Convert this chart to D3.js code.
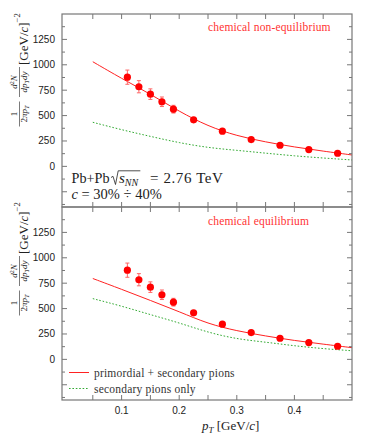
<!DOCTYPE html>
<html>
<head>
<meta charset="utf-8">
<script src="https://cdn.jsdelivr.net/npm/d3@7"></script>
<style>
  body { margin: 0; background: #fff; }
  svg { display: block; }
  .serif { font-family: "Liberation Serif", "Times New Roman", "DejaVu Serif", serif; }
  .sans { font-family: "Liberation Sans", Arial, sans-serif; }
</style>
</head>
<body>
<div id="chart"></div>
<script>
// measured points (same in both panels)
const ptData = [0.11, 0.13, 0.15, 0.17, 0.19, 0.225, 0.275, 0.325, 0.375, 0.425, 0.475];
const yieldData = [878, 784, 711, 636, 563, 458, 346, 264, 208, 165, 129];
const errData = [70, 60, 52, 47, 38, 20, 14, 11, 9, 8, 7];

// model curves
const ptCurve = [0.05, 0.1, 0.15, 0.2, 0.25, 0.3, 0.35, 0.4, 0.45, 0.5];
const noneqTotal = [1030, 865, 712, 540, 395, 300, 240, 190, 150, 112];
const noneqSecondary = [434, 360, 295, 232, 184, 158, 130, 103, 82, 63];
const eqTotal = [796, 690, 580, 470, 350, 280, 230, 185, 150, 115];
const eqSecondary = [598, 525, 440, 360, 265, 200, 170, 133, 105, 85];

const xTickLabels = [0.1, 0.2, 0.3, 0.4];
const yTickLabels = [0, 250, 500, 750, 1000, 1250];

const W = 374, H = 442;
const left = 62, right = 352;
const frameGray = "#777";
const red = "#f22", green = "#3a3";

const svg = d3.select("#chart").append("svg").attr("width", W).attr("height", H);

const x = d3.scaleLinear().domain([0, 0.5]).range([64, right]);

const panels = [
  { top: 14, bottom: 207, label: "chemical non-equilibrium", total: noneqTotal, secondary: noneqSecondary, labelY: 127 },
  { top: 207, bottom: 400, label: "chemical equilibrium", total: eqTotal, secondary: eqSecondary, labelY: 316 }
];

const line = (y) => d3.line().x((d, i) => x(ptCurve[i])).y((d) => y(d)).curve(d3.curveBasis);

panels.forEach((p, pi) => {
  const y = d3.scaleLinear().domain([-400, 1500]).range([p.bottom, p.top]);
  const g = svg.append("g");

  // curves
  g.append("path").attr("d", line(y)(p.total))
    .attr("fill", "none").attr("stroke", red).attr("stroke-width", 1);
  g.append("path").attr("d", line(y)(p.secondary))
    .attr("fill", "none").attr("stroke", green).attr("stroke-width", 1)
    .attr("stroke-dasharray", "1.6,1.8");

  // error bars
  const eb = g.selectAll(".eb").data(ptData).enter().append("g")
    .attr("stroke", "#f66").attr("stroke-width", 1);
  eb.append("line").attr("x1", (d) => x(d)).attr("x2", (d) => x(d))
    .attr("y1", (d, i) => y(yieldData[i] - errData[i])).attr("y2", (d, i) => y(yieldData[i] + errData[i]));
  eb.append("line").attr("x1", (d) => x(d) - 2).attr("x2", (d) => x(d) + 2)
    .attr("y1", (d, i) => y(yieldData[i] - errData[i])).attr("y2", (d, i) => y(yieldData[i] - errData[i]));
  eb.append("line").attr("x1", (d) => x(d) - 2).attr("x2", (d) => x(d) + 2)
    .attr("y1", (d, i) => y(yieldData[i] + errData[i])).attr("y2", (d, i) => y(yieldData[i] + errData[i]));

  g.selectAll(".pt").data(ptData).enter().append("circle")
    .attr("cx", (d) => x(d)).attr("cy", (d, i) => y(yieldData[i]))
    .attr("r", 3.6).attr("fill", "#f00");

  // frame
  g.append("rect").attr("x", left).attr("y", p.top).attr("width", right - left).attr("height", p.bottom - p.top)
    .attr("fill", "none").attr("stroke", frameGray).attr("stroke-width", 1.2);

  // y ticks (inside, both sides)
  const yt = d3.range(-375, 1500, 125);
  yt.forEach((v) => {
    const len = v % 250 === 0 ? 5 : 3;
    g.append("line").attr("x1", left).attr("x2", left + len).attr("y1", y(v)).attr("y2", y(v))
      .attr("stroke", frameGray);
    g.append("line").attr("x1", right).attr("x2", right - len).attr("y1", y(v)).attr("y2", y(v))
      .attr("stroke", frameGray);
  });
  g.selectAll(".yl").data(yTickLabels).enter().append("text")
    .attr("class", "sans")
    .attr("x", 55).attr("y", (d) => y(d) + 3.5).attr("text-anchor", "end")
    .attr("font-size", 10).attr("fill", "#222")
    .text((d) => d);

  // x ticks (inside, top and bottom)
  d3.range(0.05, 0.5, 0.05).forEach((v) => {
    g.append("line").attr("x1", x(v)).attr("x2", x(v)).attr("y1", p.bottom).attr("y2", p.bottom - 5)
      .attr("stroke", frameGray);
    g.append("line").attr("x1", x(v)).attr("x2", x(v)).attr("y1", p.top).attr("y2", p.top + 5)
      .attr("stroke", frameGray);
  });

  // panel title
  g.append("text").attr("class", "serif").attr("x", 208).attr("y", pi === 0 ? 31 : 225)
    .attr("font-size", 11.5).attr("letter-spacing", 0.15).attr("fill", "#f33")
    .text(p.label);

  // rotated y-axis label
  const yl = svg.append("g").attr("class", "serif")
    .attr("transform", "translate(0," + p.labelY + ") rotate(-90)")
    .attr("fill", "#222");
  const frac = (cx, num, den, halfw) => {
    const n = yl.append("text").attr("x", cx).attr("y", 17).attr("text-anchor", "middle").attr("font-size", 9);
    num(n);
    yl.append("line").attr("x1", cx - halfw).attr("x2", cx + halfw).attr("y1", 19.5).attr("y2", 19.5)
      .attr("stroke", "#222").attr("stroke-width", 0.6);
    const dn = yl.append("text").attr("x", cx).attr("y", 27).attr("text-anchor", "middle").attr("font-size", 9);
    den(dn);
  };
  frac(13, (t) => t.text("1"), (t) => {
    t.append("tspan").text("2");
    t.append("tspan").attr("font-style", "italic").text("πp");
    t.append("tspan").attr("font-style", "italic").attr("font-size", 6.5).attr("dy", 1.5).text("T");
  }, 12.5);
  frac(45, (t) => {
    t.append("tspan").attr("font-style", "italic").text("d");
    t.append("tspan").attr("font-size", 6).attr("dy", -3).text("2");
    t.append("tspan").attr("font-style", "italic").attr("dy", 3).text("N");
  }, (t) => {
    t.append("tspan").attr("font-style", "italic").text("dp");
    t.append("tspan").attr("font-style", "italic").attr("font-size", 6.5).attr("dy", 1.5).text("T");
    t.append("tspan").attr("font-style", "italic").attr("dy", -1.5).text("dy");
  }, 15);
  const gl = yl.append("text").attr("x", 62).attr("y", 28).attr("font-size", 13);
  gl.append("tspan").text("[GeV/");
  gl.append("tspan").attr("font-style", "italic").text("c");
  gl.append("tspan").text("]");
  gl.append("tspan").attr("font-size", 8.5).attr("dy", -8).text("−2");
});

// collision-system annotation; the radical sign is drawn as a path
svg.append("text").attr("class", "serif").attr("x", 71.5).attr("y", 183).attr("font-size", 14.2)
  .attr("fill", "#222").text("Pb+Pb");
const sqt = svg.append("text").attr("class", "serif").attr("x", 119).attr("y", 183).attr("font-size", 15).attr("fill", "#222");
sqt.append("tspan").attr("font-style", "italic").text("s");
const nn = sqt.append("tspan").attr("font-style", "italic").attr("font-size", 10).attr("dy", 2.5).text("NN");
svg.append("text").attr("class", "serif").attr("x", 150).attr("y", 183).attr("font-size", 15)
  .attr("letter-spacing", 0.6).attr("fill", "#222").text("= 2.76 TeV");
const nnEnd = nn.node().getBBox();
svg.append("path")
  .attr("d", "M111,177.5 L113,176.3 L115.5,184.5 L118.2,170.8 H" + (nnEnd.x + nnEnd.width + 0.8))
  .attr("fill", "none").attr("stroke", "#222").attr("stroke-width", 0.8);

const ann2 = svg.append("text").attr("class", "serif").attr("x", 71.5).attr("y", 199).attr("font-size", 14.5).attr("fill", "#222");
ann2.append("tspan").attr("font-style", "italic").text("c");
ann2.append("tspan").text(" = 30% ÷ 40%");

// legend
const leg = [
  { label: "primordial + secondary pions", color: red, dash: null, y: 372.5 },
  { label: "secondary pions only", color: green, dash: "1.6,1.8", y: 388.5 }
];
leg.forEach((l) => {
  svg.append("line").attr("x1", 69).attr("x2", 89).attr("y1", l.y).attr("y2", l.y)
    .attr("stroke", l.color).attr("stroke-width", 1).attr("stroke-dasharray", l.dash);
  svg.append("text").attr("class", "serif").attr("x", 94).attr("y", l.y + 4.5).attr("font-size", 11.5)
    .attr("letter-spacing", 0.2).attr("fill", "#333").text(l.label);
});

// x tick labels and axis title
svg.selectAll(".xl").data(xTickLabels).enter().append("text")
  .attr("class", "sans")
  .attr("x", (d) => x(d)).attr("y", 414).attr("text-anchor", "middle")
  .attr("font-size", 10).attr("fill", "#222")
  .text((d) => d);

const xt = svg.append("text").attr("class", "serif").attr("x", 202).attr("y", 430).attr("font-size", 13).attr("fill", "#222");
xt.append("tspan").attr("font-style", "italic").text("p");
xt.append("tspan").attr("font-style", "italic").attr("font-size", 9).attr("dy", 2.5).text("T");
xt.append("tspan").attr("dy", -2.5).text(" [GeV/");
xt.append("tspan").attr("font-style", "italic").text("c");
xt.append("tspan").text("]");
</script>
</body>
</html>
